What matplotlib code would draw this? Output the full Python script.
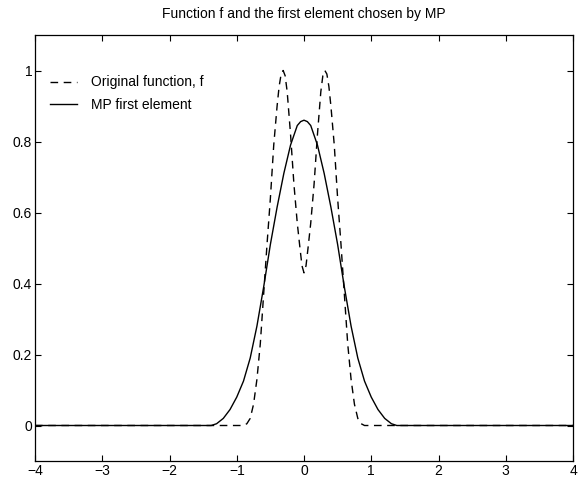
import matplotlib
matplotlib.use('Agg')
import matplotlib.pyplot as plt
from matplotlib.ticker import FormatStrFormatter

# values
f_x = [-4.0, -0.9, -0.85, -0.8, -0.75, -0.7, -0.65, -0.6, -0.55, -0.5, -0.45,
       -0.4, -0.37, -0.34, -0.31, -0.28, -0.25, -0.2, -0.15, -0.1, -0.06,
       -0.03, 0.0, 0.03, 0.06, 0.1, 0.15, 0.2, 0.25, 0.28, 0.31, 0.34, 0.37,
       0.4, 0.45, 0.5, 0.55, 0.6, 0.65, 0.7, 0.75, 0.8, 0.85, 0.9, 4.0]
f_y = [0.0, 0.0, 0.005, 0.02, 0.06, 0.13, 0.23, 0.37, 0.51, 0.64, 0.79,
       0.90, 0.955, 0.99, 1.0, 0.985, 0.94, 0.82, 0.68, 0.57, 0.50,
       0.45, 0.43, 0.45, 0.50, 0.57, 0.68, 0.82, 0.94, 0.985, 1.0, 0.99, 0.955,
       0.90, 0.79, 0.64, 0.51, 0.37, 0.23, 0.13, 0.06, 0.02, 0.005, 0.0, 0.0]

mp_x = [-4.0, -1.38, -1.3, -1.2, -1.1, -1.0, -0.9, -0.8, -0.7, -0.6, -0.5,
        -0.4, -0.3, -0.2, -0.1, -0.05, 0.0, 0.05, 0.1, 0.2, 0.3, 0.4, 0.5,
        0.6, 0.7, 0.8, 0.9, 1.0, 1.1, 1.2, 1.3, 1.38, 4.0]
mp_y = [0.0, 0.0, 0.005, 0.02, 0.045, 0.08, 0.125, 0.19, 0.28, 0.39, 0.51,
        0.615, 0.71, 0.79, 0.845, 0.856, 0.86, 0.856, 0.845, 0.79, 0.71,
        0.615, 0.51, 0.39, 0.28, 0.19, 0.125, 0.08, 0.045, 0.02, 0.005, 0.0,
        0.0]

x_ticks = [-4, -3, -2, -1, 0, 1, 2, 3, 4]
y_ticks = [0, 0.2, 0.4, 0.6, 0.8, 1]

plt.rcParams['font.family'] = ['Liberation Sans', 'DejaVu Sans']
plt.rcParams['font.size'] = 10

fig = plt.figure(figsize=(5.78, 4.8), dpi=100)
ax = fig.add_axes([35 / 578, 19 / 480, 538 / 578, 426 / 480])

ax.plot(f_x, f_y, color='black', lw=1.0, dashes=(5.5, 4),
        label='Original function, f')
ax.plot(mp_x, mp_y, color='black', lw=1.0, label='MP first element')

ax.set_xlim(-4, 4)
ax.set_ylim(-0.1, 1.1)
ax.set_xticks(x_ticks)
ax.set_yticks(y_ticks)
ax.yaxis.set_major_formatter(FormatStrFormatter('%g'))
ax.tick_params(direction='in', top=True, right=True, length=4, width=0.8,
               pad=2)
for s in ax.spines.values():
    s.set_linewidth(0.9)

ax.set_title('Function f and the first element chosen by MP', fontsize=10,
             pad=12)
ax.legend(loc='upper left', bbox_to_anchor=(0.027, 0.905), frameon=False,
          borderpad=0, borderaxespad=0, handlelength=2.0, handletextpad=1.0,
          labelspacing=0.6)

fig.savefig('out.png', dpi=100)
